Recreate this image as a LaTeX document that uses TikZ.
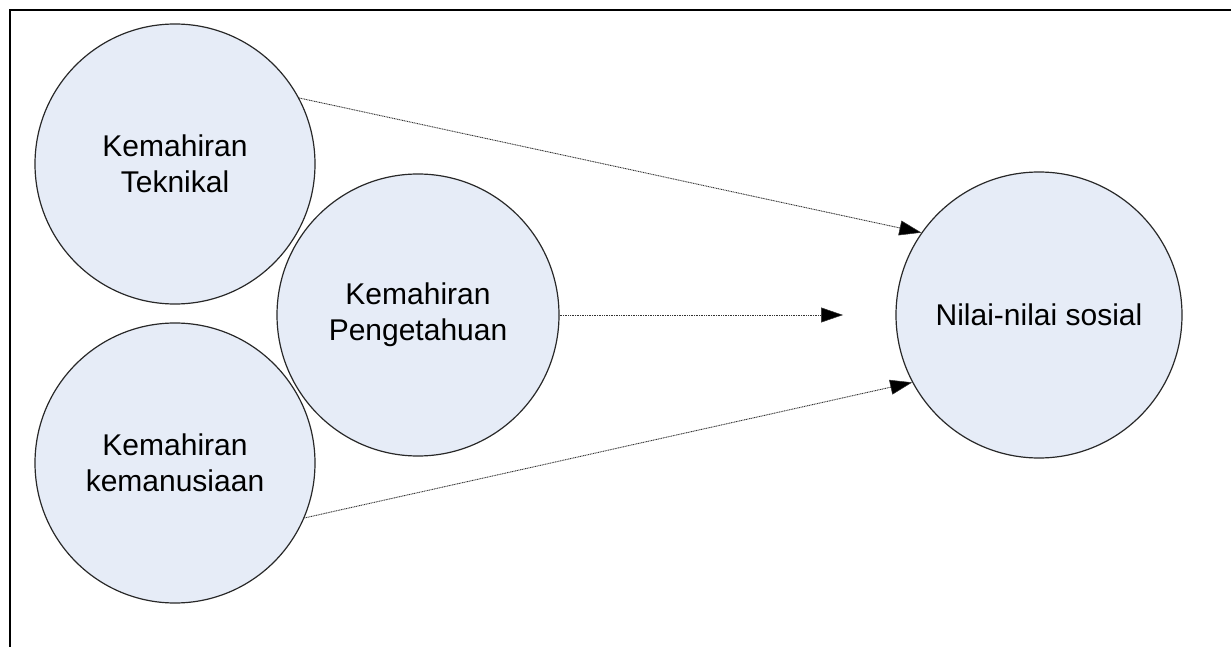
\documentclass[tikz,border=0pt]{standalone}
\usepackage{fontspec}
\setmainfont{Liberation Sans}
\usetikzlibrary{arrows.meta}
\definecolor{circfill}{RGB}{230,236,247}
\definecolor{circline}{RGB}{40,40,40}
\tikzset{
  circ/.style={circle, draw=circline, line width=1.2pt, fill=circfill, minimum size=#1, inner sep=0pt,
    align=center, font=\fontsize{30}{36}\selectfont},
  conn/.style={line width=0.9pt, draw=black!80, dash pattern=on 1pt off 0.7pt,
    -{Triangle[length=22pt,width=15pt,fill=black,line width=0.5pt]}},
  frame/.style={line width=2pt, draw=black}
}
\begin{document}
\begin{tikzpicture}[x=1pt,y=-1pt]
\useasboundingbox (0,0) rectangle (1231,647);
\draw[frame] (10,648) -- (10,10) -- (1232,10);
\node[circ=280pt] (tek) at (175,164) {Kemahiran\\Teknikal};
\node[circ=280pt] (kem) at (175,463) {Kemahiran\\kemanusiaan};
\node[circ=282pt] (peng) at (418,315) {Kemahiran\\Pengetahuan};
\node[circ=286pt] (nilai) at (1039,315) {Nilai-nilai sosial};
\coordinate (mid) at (843,315);
\draw[conn] (tek.28.5) -- (nilai.145.4);
\draw[conn] (peng.east) -- (mid);
\draw[conn] (kem.-23) -- (nilai.208);
\end{tikzpicture}
\end{document}
